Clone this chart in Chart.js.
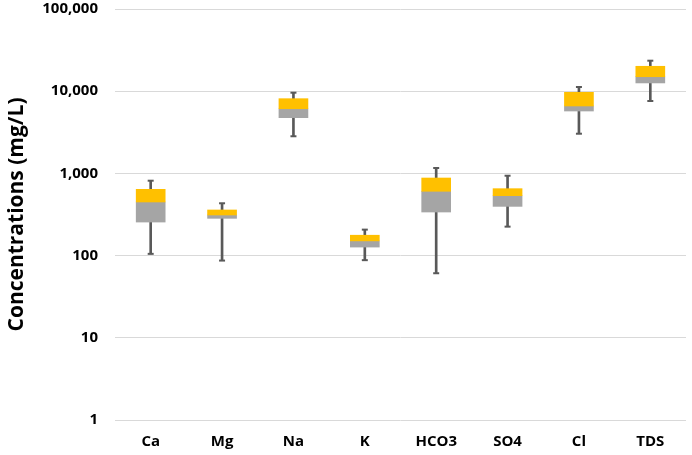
<!DOCTYPE html>
<html>
<head>
<meta charset="utf-8">
<script src="https://cdn.jsdelivr.net/npm/chart.js@4"></script>
<style>
  html, body { margin: 0; padding: 0; background: #fff; }
</style>
</head>
<body>
<canvas id="box-chart" width="692" height="455"></canvas>
<script>
// Box plot data (mg/L)
const categories = ['Ca', 'Mg', 'Na', 'K', 'HCO3', 'SO4', 'Cl', 'TDS'];
const minVals    = [105,  87,  2830,  88,   61, 225,  3040,  7600];
const q1Vals     = [256, 284,  4760, 127,  339, 397,  5740, 12600];
const medianVals = [449, 312,  6120, 151,  606, 536,  6610, 15000];
const q3Vals     = [640, 359,  8110, 177,  879, 652,  9690, 20100];
const maxVals    = [815, 433,  9590, 207, 1164, 937, 11250, 23500];
const yTickValues = [1, 10, 100, 1000, 10000, 100000];

const whiskerColor = '#595959';
const fontFamily = '"Open Sans", "Liberation Sans", sans-serif';

const ctx = document.getElementById('box-chart').getContext('2d');
new Chart(ctx, {
    type: 'bar',
    data: {
        labels: categories,
        datasets: [{
            label: 'Q3',
            data: categories.map((c, i) => [medianVals[i], q3Vals[i]]),
            backgroundColor: '#FFC000',
            barThickness: 29,
            grouped: false,
            order: 1
        }, {
            label: 'Q1',
            data: categories.map((c, i) => [q1Vals[i], medianVals[i]]),
            backgroundColor: '#A5A5A5',
            barThickness: 29,
            grouped: false,
            order: 1
        }, {
            label: 'Whisker',
            data: categories.map((c, i) => [minVals[i], maxVals[i]]),
            backgroundColor: whiskerColor,
            barThickness: 2,
            grouped: false,
            order: 3
        }, {
            type: 'line',
            label: 'Max',
            data: maxVals,
            showLine: false,
            pointStyle: 'line',
            pointRadius: 3,
            borderWidth: 2,
            borderColor: whiskerColor,
            order: 2
        }, {
            type: 'line',
            label: 'Min',
            data: minVals,
            showLine: false,
            pointStyle: 'line',
            pointRadius: 3,
            borderWidth: 2,
            borderColor: whiskerColor,
            order: 2
        }]
    },
    options: {
        responsive: false,
        animation: false,
        layout: { padding: { top: 9, right: 0, left: 0, bottom: 0 } },
        plugins: {
            legend: { display: false },
            tooltip: { enabled: false }
        },
        scales: {
            x: {
                grid: { display: false },
                border: { display: false },
                ticks: {
                    color: '#000',
                    padding: 5,
                    font: { family: fontFamily, size: 15, weight: 'bold' }
                },
                afterFit: (scale) => {
                    scale.height = 35;
                    scale.paddingLeft = 0;
                    scale.paddingRight = 0;
                }
            },
            y: {
                type: 'logarithmic',
                min: 1,
                max: 100000,
                grid: { color: '#D9D9D9', lineWidth: 1, drawTicks: false },
                border: { display: false },
                afterBuildTicks: (scale) => {
                    scale.ticks = yTickValues.map(v => ({ value: v }));
                },
                ticks: {
                    color: '#000',
                    padding: 17,
                    font: { family: fontFamily, size: 15, weight: 'bold' },
                    callback: (v) => Number(v).toLocaleString('en-US')
                },
                title: {
                    display: true,
                    text: 'Concentrations (mg/L)',
                    color: '#000',
                    padding: { top: 4, bottom: 0 },
                    font: { family: fontFamily, size: 21, weight: 'bold' }
                },
                afterFit: (scale) => {
                    scale.width = 115;
                    scale.paddingTop = 0;
                    scale.paddingBottom = 0;
                }
            }
        }
    }
});
</script>
</body>
</html>
